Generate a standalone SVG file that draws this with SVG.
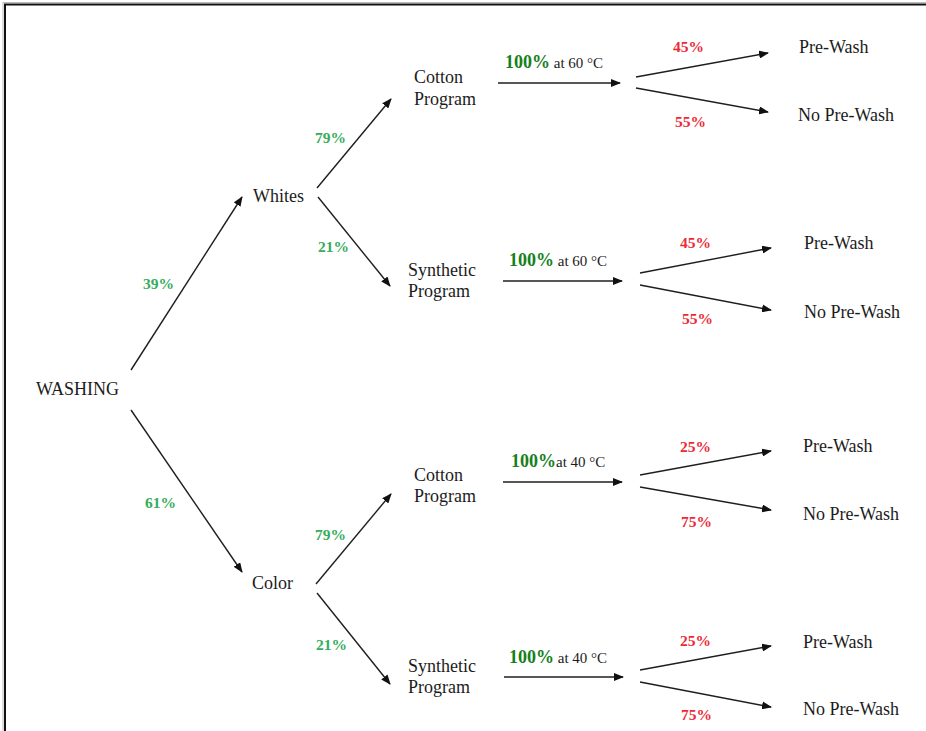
<svg xmlns="http://www.w3.org/2000/svg" width="926" height="731" viewBox="0 0 926 731">
<style>
text{font-family:"Liberation Serif","Times New Roman",Times,serif}
.n{font-size:18px;fill:#1c1c1c}
.g{font-size:15.5px;font-weight:bold;fill:#35ac5c}
.r{font-size:15.5px;font-weight:bold;fill:#ec2a36}
.p{font-size:18px;font-weight:bold;fill:#16801c}
.t{font-size:15px;fill:#1c1c1c}
.c line{stroke:#1e1e1e;stroke-width:1.4;marker-end:url(#ah)}
</style>
<defs>
<marker id="ah" viewBox="0 0 10 8" refX="9" refY="4" markerWidth="10" markerHeight="8" markerUnits="userSpaceOnUse" orient="auto">
<path d="M0,0 L10,4 L0,8 z" fill="#111"/>
</marker>
</defs>
<rect x="0" y="0" width="926" height="731" fill="#fff"/>
<rect x="3" y="2.5" width="960" height="760" fill="none" stroke="#bbb" stroke-width="1"/>
<rect x="5" y="4.5" width="960" height="760" fill="none" stroke="#111" stroke-width="2"/>

<g id="connectors" class="c">
<line x1="131" y1="370" x2="242" y2="197"/>
<line x1="131" y1="410" x2="242" y2="572"/>
<line x1="317" y1="188" x2="391" y2="99"/>
<line x1="318" y1="197" x2="390" y2="286"/>
<line x1="316" y1="584" x2="391" y2="494"/>
<line x1="317" y1="593" x2="390" y2="684"/>

<line x1="498" y1="83" x2="620" y2="83"/>
<line x1="636" y1="77" x2="768" y2="53"/>
<line x1="636" y1="88" x2="768" y2="112"/>

<line x1="503" y1="281" x2="622" y2="281"/>
<line x1="640" y1="273" x2="771" y2="248"/>
<line x1="640" y1="285" x2="771" y2="310"/>

<line x1="503" y1="482" x2="622" y2="482"/>
<line x1="640" y1="475" x2="771" y2="451"/>
<line x1="640" y1="487" x2="771" y2="510"/>

<line x1="504" y1="677" x2="623" y2="677"/>
<line x1="640" y1="670" x2="771" y2="646"/>
<line x1="640" y1="682" x2="771" y2="707"/>
</g>

<g id="labels">
<text class="g" x="143" y="289">39%</text>
<text class="g" x="145" y="508">61%</text>
<text class="g" x="315" y="143">79%</text>
<text class="g" x="318" y="252">21%</text>
<text class="g" x="315" y="540">79%</text>
<text class="g" x="316" y="650">21%</text>

<text x="505" y="68"><tspan class="p">100%</tspan><tspan class="t"> at 60 °C</tspan></text>
<text class="r" x="673" y="52">45%</text>
<text class="r" x="675" y="127">55%</text>

<text x="509" y="266"><tspan class="p">100%</tspan><tspan class="t"> at 60 °C</tspan></text>
<text class="r" x="680" y="248">45%</text>
<text class="r" x="682" y="324">55%</text>

<text x="511" y="467"><tspan class="p">100%</tspan><tspan class="t">at 40 °C</tspan></text>
<text class="r" x="680" y="452">25%</text>
<text class="r" x="681" y="527">75%</text>

<text x="509" y="663"><tspan class="p">100%</tspan><tspan class="t"> at 40 °C</tspan></text>
<text class="r" x="680" y="646">25%</text>
<text class="r" x="681" y="720">75%</text>
</g>

<g id="washing"><text class="n" x="36" y="395">WASHING</text></g>
<g id="whites"><text class="n" x="253" y="202">Whites</text></g>
<g id="color"><text class="n" x="252" y="589">Color</text></g>

<g id="cotton-white"><text class="n" x="414" y="83">Cotton</text><text class="n" x="414" y="105">Program</text></g>
<g id="synthetic-white"><text class="n" x="408" y="276">Synthetic</text><text class="n" x="408" y="297">Program</text></g>
<g id="cotton-color"><text class="n" x="414" y="481">Cotton</text><text class="n" x="414" y="502">Program</text></g>
<g id="synthetic-color"><text class="n" x="408" y="672">Synthetic</text><text class="n" x="408" y="693">Program</text></g>

<g id="prewash-1"><text class="n" x="799" y="53">Pre-Wash</text></g>
<g id="noprewash-1"><text class="n" x="798" y="121">No Pre-Wash</text></g>
<g id="prewash-2"><text class="n" x="804" y="249">Pre-Wash</text></g>
<g id="noprewash-2"><text class="n" x="804" y="318">No Pre-Wash</text></g>
<g id="prewash-3"><text class="n" x="803" y="452">Pre-Wash</text></g>
<g id="noprewash-3"><text class="n" x="803" y="520">No Pre-Wash</text></g>
<g id="prewash-4"><text class="n" x="803" y="648">Pre-Wash</text></g>
<g id="noprewash-4"><text class="n" x="803" y="715">No Pre-Wash</text></g>
</svg>
